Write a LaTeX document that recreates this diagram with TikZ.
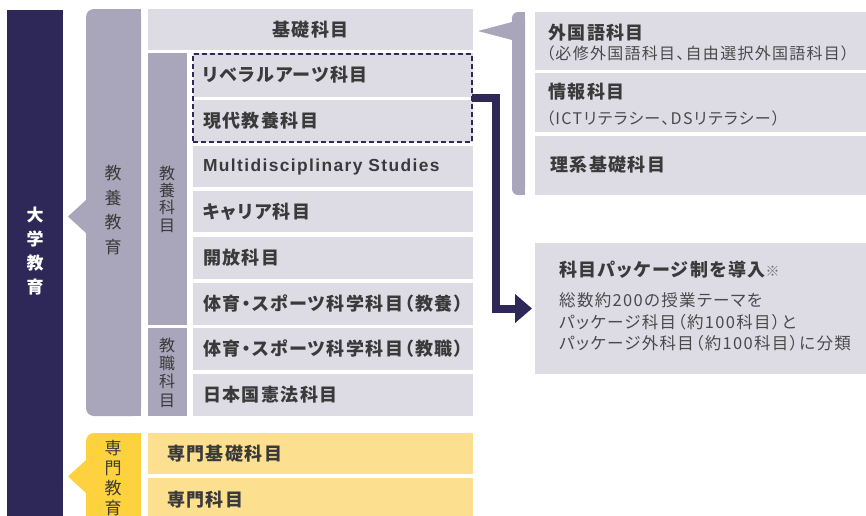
\documentclass[tikz,border=0pt]{standalone}
\usepackage{fontspec}
\setmainfont{Noto Sans CJK JP}[RawFeature={+palt}, LetterSpace=8]
\newfontfamily\latinb{Liberation Sans}[LetterSpace=8]
\usetikzlibrary{arrows.meta}
\definecolor{navy}{HTML}{2D2857}
\definecolor{band}{HTML}{A9A5BA}
\definecolor{rowc}{HTML}{DDDCE4}
\definecolor{yband}{HTML}{FDD23E}
\definecolor{yrow}{HTML}{FDE08F}
\definecolor{txt}{HTML}{3A3A3A}
\definecolor{subtxt}{HTML}{4A4A4A}
\definecolor{notec}{HTML}{707070}
\tikzset{
  cell/.style={anchor=north west, fill=rowc, inner ysep=0pt, outer sep=0pt, text=txt,
    font=\bfseries\fontsize{18}{20}\selectfont},
  lrow/.style={cell, minimum height=42pt, text width=260pt, inner xsep=10pt, align=left},
  yrowbox/.style={cell, fill=yrow, minimum height=41pt, text width=287pt, inner xsep=19pt, align=left},
  rbox/.style={anchor=north west, fill=rowc, inner sep=0pt, outer sep=0pt, minimum width=331pt},
  rhead/.style={anchor=west, inner sep=0pt, text=txt, font=\bfseries\fontsize{18}{20}\selectfont},
  rsub/.style={anchor=west, inner sep=0pt, text=subtxt, font=\fontsize{16}{20}\selectfont},
  vlabel/.style={inner sep=0pt, align=center, text=txt},
}
\begin{document}
\begin{tikzpicture}[x=1pt,y=-1pt]
\useasboundingbox (0,0) rectangle (866,515);
% 大学教育 band
\fill[navy] (7,10) rectangle (63,530);
\node[vlabel, text=white, font={\bfseries\fontsize{17}{24}\selectfont}] (daigaku) at (35,251) {大\\学\\教\\育};
% 教養教育 band
\fill[band, rounded corners=8pt] (86,9) rectangle (141,416);
\fill[band] (110,9) rectangle (141,416);
\fill[band] (86,200) -- (68,216.5) -- (86,233) -- cycle;
\node[vlabel, font={\fontsize{17}{24.7}\selectfont}] (kyoyoedu) at (113,210) {教\\養\\教\\育};
% 専門教育 band
\fill[yband, rounded corners=8pt] (86,433) rectangle (141,530);
\fill[yband] (110,433) rectangle (141,530);
\fill[yband] (86,470) rectangle (141,530);
\fill[yband] (86,460) -- (68,476.5) -- (86,493) -- cycle;
\node[vlabel, font={\fontsize{17}{19.7}\selectfont}] (senmonedu) at (113,478) {専\\門\\教\\育};
% 基礎科目
\node[cell, minimum width=325pt, minimum height=41pt, inner xsep=0pt, align=center] (kiso) at (148,9) {基礎科目};
% sub bands
\fill[band] (148,53) rectangle (187,325);
\node[vlabel, font={\fontsize{16}{17.3}\selectfont}] (kyoyokamoku) at (167,199) {教\\養\\科\\目};
\fill[band] (148,328) rectangle (187,416);
\node[vlabel, font={\fontsize{16}{18.3}\selectfont}] (kyoshoku) at (167,372.5) {教\\職\\科\\目};
% rows
\node[lrow, minimum height=44pt] (lib) at (193,53) {リベラルアーツ科目};
\node[lrow] (gendai) at (193,100) {現代教養科目};
\node[lrow, minimum height=41pt, font={\latinb\bfseries\fontsize{17.4}{20}\selectfont}] (multi) at (193,146) {Multidisciplinary Studies};
\node[lrow, minimum height=41pt] (career) at (193,191) {キャリア科目};
\node[lrow] (kaiho) at (193,237) {開放科目};
\node[lrow] (taiiku1) at (193,283) {体育・スポーツ科学科目（教養）};
\node[lrow] (taiiku2) at (193,328) {体育・スポーツ科学科目（教職）};
\node[lrow] (kenpo) at (193,374) {日本国憲法科目};
% 専門 rows
\node[yrowbox] (senkiso) at (148,433) {専門基礎科目};
\node[yrowbox, minimum height=44pt] (senmon) at (148,478) {専門科目};
% dashed group
\node[anchor=north west, minimum width=279pt, minimum height=88pt, inner sep=0pt, outer sep=0pt,
  draw=navy, line width=2pt, dash pattern=on 5pt off 3pt] (dash) at (193,54) {};
% right bracket
\fill[band, rounded corners=6pt] (512,12) rectangle (525,195);
\fill[band] (518,12) rectangle (525,195);
\fill[band] (512,22) -- (478,31) -- (512,40) -- cycle;
% right boxes
\node[rbox, minimum height=58pt] (fl) at (535,12) {};
\node[rhead] (flh) at (548,33) {外国語科目};
\node[rsub] (fls) at (546,53) {（必修外国語科目、自由選択外国語科目）};
\node[rbox, minimum height=59pt] (info) at (535,73) {};
\node[rhead] (infoh) at (548,92) {情報科目};
\node[rsub] (infos) at (546,118) {（ICTリテラシー、DSリテラシー）};
\node[rbox, minimum height=59pt] (rike) at (535,136) {};
\node[rhead] (rikeh) at (550,165) {理系基礎科目};
% package box
\node[rbox, minimum height=131pt] (pkg) at (535,243) {};
\node[rhead] (pkgh) at (559,270) {科目パッケージ制を導入{\mdseries\fontsize{14}{14}\selectfont\color{notec}※}};
\node[anchor=west, inner sep=0pt, align=left, text=subtxt, font={\fontsize{16.5}{21.7}\selectfont}] (pkgb) at (559,322)
  {総数約200の授業テーマを\\パッケージ科目（約100科目）と\\パッケージ外科目（約100科目）に分類};
% arrow
\coordinate (bend) at (496,308.5);
\draw[navy, line width=8pt, -{Triangle[length=17pt,width=28pt]}] (dash.east) -| (bend) -- ([xshift=-3pt]pkg.west);
\end{tikzpicture}
\end{document}
